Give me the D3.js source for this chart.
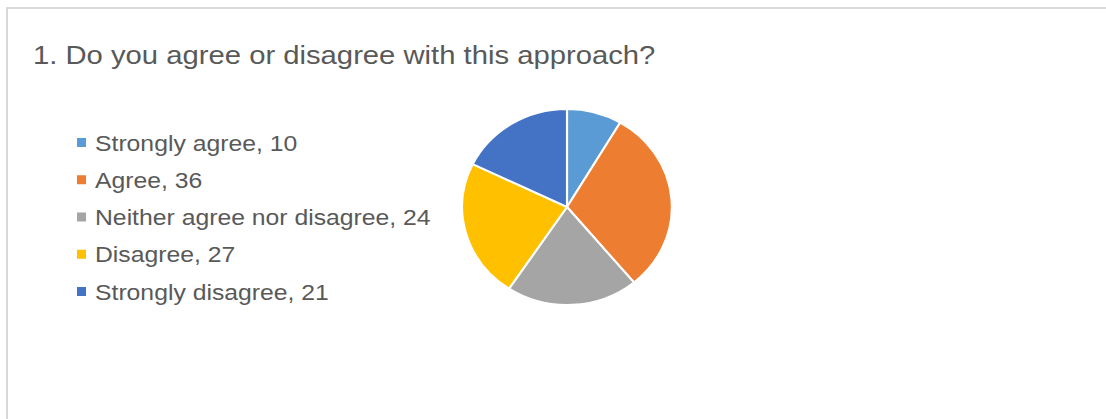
<!DOCTYPE html>
<html>
<head>
<meta charset="utf-8">
<script src="https://cdn.jsdelivr.net/npm/d3@7"></script>
<style>
  body { margin: 0; background: #fff; }
  text { font-family: 'Liberation Sans', Arial, sans-serif; fill: #595959; }
</style>
</head>
<body>
<div id="chart"></div>
<script>
const WIDTH = 1106
const HEIGHT = 419

const title = '1. Do you agree or disagree with this approach?'
const categories = ['Strongly agree', 'Agree', 'Neither agree nor disagree', 'Disagree', 'Strongly disagree']
const values = [10, 36, 24, 27, 21]
const colors = ['#5B9BD5', '#ED7D31', '#A5A5A5', '#FFC000', '#4472C4']

const data = categories.map((name, i) => ({ name, value: values[i] }))

// the source picture is stretched a bit horizontally
const STRETCH_TEXT = 1.125
const STRETCH_PIE = 1.07

const svg = d3.select('#chart')
  .append('svg')
  .attr('width', WIDTH)
  .attr('height', HEIGHT)

// chart frame
svg.append('rect')
  .attr('x', 7)
  .attr('y', 8)
  .attr('width', WIDTH + 10)
  .attr('height', HEIGHT + 10)
  .attr('fill', '#fff')
  .attr('stroke', '#d9d9d9')
  .attr('stroke-width', 2)

svg.append('text')
  .attr('transform', `translate(33,64) scale(${STRETCH_TEXT},1)`)
  .style('font-size', '26px')
  .text(title)

// legend
const legendY = d3.scalePoint()
  .domain(categories)
  .range([142.5, 291.5])

const color = d3.scaleOrdinal()
  .domain(categories)
  .range(colors)

const legend = svg.selectAll('g.legend')
  .data(data)
  .join('g')
  .attr('class', 'legend')
  .attr('transform', (d) => `translate(77,${legendY(d.name)})`)

legend.append('rect')
  .attr('x', 0)
  .attr('y', -4.5)
  .attr('width', 9)
  .attr('height', 9)
  .attr('fill', (d) => color(d.name))

legend.append('text')
  .attr('transform', `translate(18,8) scale(${STRETCH_TEXT},1)`)
  .style('font-size', '22px')
  .text((d) => `${d.name}, ${d.value}`)

// pie
const radius = 98
const pie = d3.pie().sort(null).value((d) => d.value)
const arc = d3.arc().innerRadius(0).outerRadius(radius)

const pieG = svg.append('g')
  .attr('transform', `translate(567,207) scale(${STRETCH_PIE},1)`)

pieG.selectAll('path')
  .data(pie(data))
  .join('path')
  .attr('d', arc)
  .attr('fill', (d) => color(d.data.name))
  .attr('stroke', '#fff')
  .attr('stroke-width', 2)
</script>
</body>
</html>
